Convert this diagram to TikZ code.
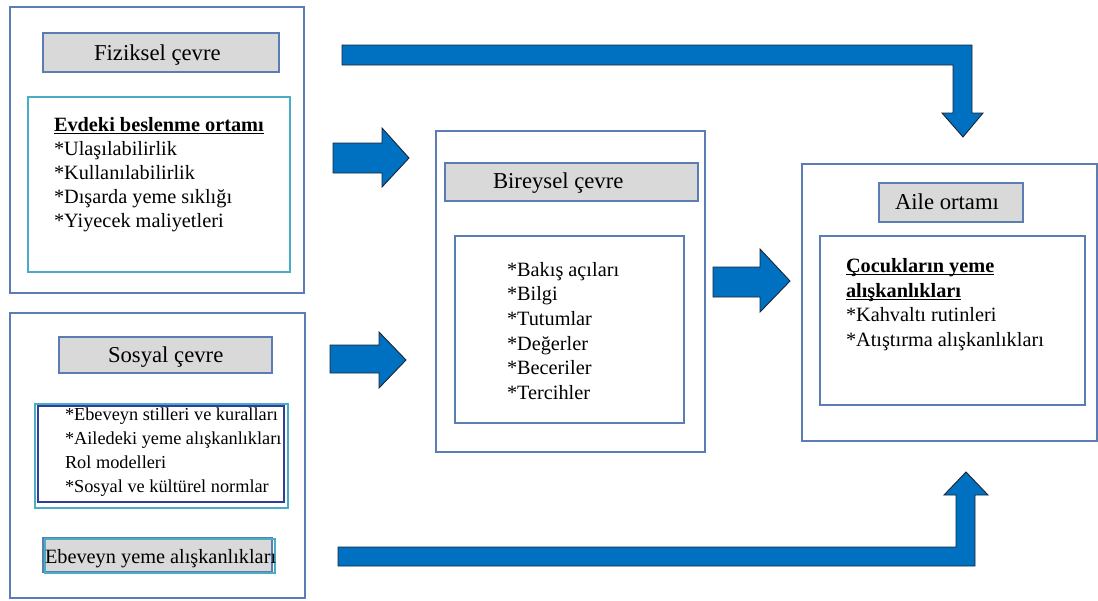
\documentclass[tikz,border=0pt]{standalone}
\usepackage{fontspec}
\setmainfont{Liberation Serif}
\definecolor{boxblue}{HTML}{5B7DB4}
\definecolor{cyanb}{HTML}{4BACC6}
\definecolor{navyb}{HTML}{2E3E9A}
\definecolor{hdrgray}{HTML}{D9D9D9}
\definecolor{arrowblue}{HTML}{0070C0}
\definecolor{arrowedge}{HTML}{1A2436}
\newcommand\myuline[1]{\setbox0\hbox{#1}\rlap{\vrule height -1.4pt depth 2.5pt width \wd0}\box0}
\begin{document}
\begin{tikzpicture}[x=1pt,y=-1pt,
  rbox/.style={anchor=north west, inner sep=0pt, outer sep=0pt, line width=1.2pt},
  outerbox/.style={rbox, draw=boxblue, fill=white},
  hdrbox/.style={rbox, draw=boxblue, fill=hdrgray},
  cyanbox/.style={rbox, draw=cyanb},
  navybox/.style={rbox, draw=navyb},
  bluebox/.style={rbox, draw=boxblue},
  txt/.style={anchor=base west, inner sep=0pt, outer sep=0pt, text=black},
  hdrtxt/.style={txt, font=\fontsize{22.7}{27}\selectfont},
  bodytxt/.style={txt, font=\fontsize{20.3}{24}\selectfont},
  smalltxt/.style={txt, font=\fontsize{18.3}{22}\selectfont},
  blockarrow/.style={fill=arrowblue, draw=arrowedge, line width=0.9pt, line join=miter}
]
\useasboundingbox (0,0) rectangle (1098,600);

% ---------- Fiziksel cevre ----------
\node[outerbox, minimum width=294pt, minimum height=286pt] (fizOuter) at (10,7) {};
\node[hdrbox, minimum width=236pt, minimum height=39pt] (fizHead) at (43,33) {};
\node[cyanbox, minimum width=262pt, minimum height=175pt] (fizInner) at (28,97) {};
\node[hdrtxt] (fizTitle) at (94,60) {Fiziksel çevre};
\node[bodytxt] (fiz1) at (54,131.5) {\textbf{\myuline{Evdeki beslenme ortamı}}};
\node[bodytxt] (fiz2) at (54,155.5) {*Ulaşılabilirlik};
\node[bodytxt] (fiz3) at (54,179.5) {*Kullanılabilirlik};
\node[bodytxt] (fiz4) at (54,203.5) {*Dışarda yeme sıklığı};
\node[bodytxt] (fiz5) at (54,227.5) {*Yiyecek maliyetleri};

% ---------- Sosyal cevre ----------
\node[outerbox, minimum width=295pt, minimum height=285pt] (sosOuter) at (10,313) {};
\node[hdrbox, minimum width=213pt, minimum height=36pt] (sosHead) at (59,337) {};
\node[cyanbox, minimum width=253pt, minimum height=104pt] (sosInnerA) at (35,404) {};
\node[navybox, minimum width=246pt, minimum height=96pt] (sosInnerB) at (38,406) {};
\node[hdrtxt] (sosTitle) at (108,362) {Sosyal çevre};
\node[smalltxt] (sos1) at (65,420) {*Ebeveyn stilleri ve kuralları};
\node[smalltxt] (sos2) at (65,444) {*Ailedeki yeme alışkanlıkları};
\node[smalltxt] (sos3) at (65,468) {Rol modelleri};
\node[smalltxt] (sos4) at (65,492) {*Sosyal ve kültürel normlar};
\node[hdrbox, minimum width=229pt, minimum height=34pt] (ebHeadA) at (43,538) {};
\node[cyanbox, minimum width=230pt, minimum height=34pt] (ebHeadB) at (45,539) {};
\node[bodytxt] (ebTitle) at (45,563) {Ebeveyn yeme alışkanlıkları};

% ---------- Bireysel cevre ----------
\node[outerbox, minimum width=269pt, minimum height=321pt] (birOuter) at (436,131) {};
\node[hdrbox, minimum width=253pt, minimum height=38pt] (birHead) at (445,163) {};
\node[bluebox, minimum width=229pt, minimum height=187pt] (birInner) at (455,236) {};
\node[hdrtxt] (birTitle) at (493,188.3) {Bireysel çevre};
\node[bodytxt] (bir1) at (507,276) {*Bakış açıları};
\node[bodytxt] (bir2) at (507,300.7) {*Bilgi};
\node[bodytxt] (bir3) at (507,325.4) {*Tutumlar};
\node[bodytxt] (bir4) at (507,350.1) {*Değerler};
\node[bodytxt] (bir5) at (507,374.8) {*Beceriler};
\node[bodytxt] (bir6) at (507,399.5) {*Tercihler};

% ---------- Aile ortami ----------
\node[outerbox, minimum width=295pt, minimum height=277pt] (aileOuter) at (802,164) {};
\node[hdrbox, minimum width=144pt, minimum height=39pt] (aileHead) at (879,183) {};
\node[bluebox, minimum width=265pt, minimum height=169pt] (aileInner) at (820,236) {};
\node[hdrtxt] (aileTitle) at (895,209.3) {Aile ortamı};
\node[bodytxt] (aile1) at (846,272.7) {\textbf{\myuline{Çocukların yeme}}};
\node[bodytxt] (aile2) at (846,297.3) {\textbf{\myuline{alışkanlıkları}}};
\node[bodytxt] (aile3) at (846,321.9) {*Kahvaltı rutinleri};
\node[bodytxt] (aile4) at (846,346.5) {*Atıştırma alışkanlıkları};

% ---------- Block arrows ----------
% Fiziksel -> Bireysel
\draw[blockarrow] (333,143) -- (382,143) -- (382,128) -- (409,158) -- (382,187) -- (382,173) -- (333,173) -- cycle;
% Sosyal -> Bireysel
\draw[blockarrow] (330,345) -- (379,345) -- (379,332) -- (406,360) -- (379,388) -- (379,373) -- (330,373) -- cycle;
% Bireysel -> Aile
\draw[blockarrow] (713,267) -- (760,267) -- (760,249) -- (790,281) -- (760,312) -- (760,297) -- (713,297) -- cycle;
% Fiziksel -> Aile (top bent arrow)
\draw[blockarrow] (342,45) -- (972,45) -- (972,113) -- (983,113) -- (963,137) -- (942,113) -- (953,113) -- (953,65) -- (342,65) -- cycle;
% Ebeveyn -> Aile (bottom bent arrow)
\draw[blockarrow] (338,566) -- (975,566) -- (975,495) -- (988,495) -- (966,472) -- (944,495) -- (956,495) -- (956,547) -- (338,547) -- cycle;
\end{tikzpicture}
\end{document}
